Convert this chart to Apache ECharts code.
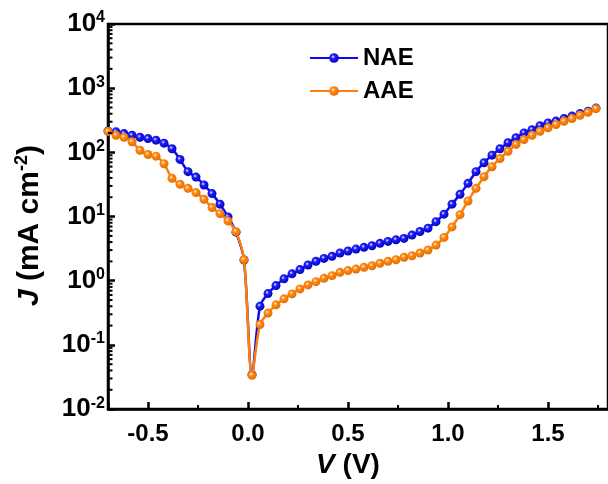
<!DOCTYPE html>
<html>
<head>
<meta charset="utf-8">
<script src="https://cdn.jsdelivr.net/npm/echarts@6/dist/echarts.min.js"></script>
<style>
  html, body { margin: 0; padding: 0; background: #fff; }
  #chart { width: 608px; height: 484px; }
</style>
</head>
<body>
<div id="chart"></div>
<script>
// Bias voltage (V)
const voltage = [-0.70, -0.66, -0.62, -0.58, -0.54, -0.50, -0.46, -0.42, -0.38, -0.34,
  -0.30, -0.26, -0.22, -0.18, -0.14, -0.10, -0.06, -0.02, 0.02, 0.06,
  0.10, 0.14, 0.18, 0.22, 0.26, 0.30, 0.34, 0.38, 0.42, 0.46,
  0.50, 0.54, 0.58, 0.62, 0.66, 0.70, 0.74, 0.78, 0.82, 0.86,
  0.90, 0.94, 0.98, 1.02, 1.06, 1.10, 1.14, 1.18, 1.22, 1.26,
  1.30, 1.34, 1.38, 1.42, 1.46, 1.50, 1.54, 1.58, 1.62, 1.66,
  1.70, 1.74];

// Current density |J| (mA cm^-2)
const jNAE = [215, 209, 196, 185, 172, 164, 155, 139, 114, 77.6,
  50.0, 41.2, 31.0, 22.8, 15.6, 9.88, 5.71, 2.10, 0.0345, 0.402,
  0.631, 0.840, 1.07, 1.28, 1.49, 1.76, 2.01, 2.23, 2.40, 2.70,
  2.90, 3.11, 3.31, 3.51, 3.82, 4.10, 4.34, 4.56, 5.14, 5.86,
  6.59, 8.32, 10.9, 15.6, 22.2, 32.9, 50.0, 69.0, 90.5, 114,
  141, 169, 201, 226, 261, 288, 307, 336, 367, 402,
  439, 489];

const jAAE = [212, 185, 172, 146, 108, 92.7, 87.3, 66.5, 39.4, 31.8,
  27.5, 23.6, 18.6, 13.8, 11.1, 8.55, 5.82, 2.12, 0.0337, 0.208,
  0.313, 0.421, 0.522, 0.624, 0.746, 0.861, 0.968, 1.09, 1.20, 1.35,
  1.44, 1.52, 1.62, 1.71, 1.87, 2.01, 2.12, 2.32, 2.45, 2.70,
  3.01, 3.59, 4.73, 6.89, 10.7, 17.5, 27.5, 41.8, 59.8, 80.4,
  104, 133, 158, 185, 213, 241, 271, 305, 336, 378,
  421, 480];

const seriesNames = ['NAE', 'AAE'];

// Axis ranges
const X_MIN = -0.7, X_MAX = 1.8;
const Y_MIN = 0.01, Y_MAX = 10000;

// Logarithmic minor tick values (2..9 in each decade)
const yMinorTicks = [0.02, 0.03, 0.04, 0.05, 0.06, 0.07, 0.08, 0.09,
  0.2, 0.3, 0.4, 0.5, 0.6, 0.7, 0.8, 0.9,
  2, 3, 4, 5, 6, 7, 8, 9,
  20, 30, 40, 50, 60, 70, 80, 90,
  200, 300, 400, 500, 600, 700, 800, 900,
  2000, 3000, 4000, 5000, 6000, 7000, 8000, 9000];

const FONT = '"Liberation Sans", Arial, sans-serif';

function ball(main, dark) {
  return {
    type: 'radial', x: 0.4, y: 0.38, r: 0.65,
    colorStops: [
      { offset: 0, color: '#ffffff' },
      { offset: 0.3, color: main },
      { offset: 1, color: dark }
    ]
  };
}

function pairs(xs, ys) {
  return xs.map((x, i) => [x, ys[i]]);
}

const chart = echarts.init(document.getElementById('chart'), null, { renderer: 'canvas' });

chart.setOption({
  animation: false,
  backgroundColor: '#ffffff',
  grid: {
    left: 108, right: -6, top: 24, bottom: 73,
    show: true, borderColor: '#000', borderWidth: 2.5, backgroundColor: 'transparent'
  },
  legend: {
    data: seriesNames,
    orient: 'vertical',
    left: 304, top: 41,
    itemWidth: 48, itemHeight: 12, itemGap: 9,
    textStyle: { fontFamily: FONT, fontSize: 24, fontWeight: 'bold', color: '#000' }
  },
  xAxis: {
    type: 'value', min: X_MIN, max: X_MAX,
    axisLine: { onZero: false, lineStyle: { color: '#000', width: 2.5 } },
    axisTick: { inside: true, length: 7, lineStyle: { width: 2.5 } },
    minorTick: { show: true, splitNumber: 2, length: 4, lineStyle: { color: '#000', width: 2 } },
    splitLine: { show: false },
    axisLabel: {
      margin: 13, showMinLabel: false, showMaxLabel: false,
      fontFamily: FONT, fontSize: 24, fontWeight: 'bold', color: '#000',
      formatter: v => v.toFixed(1)
    },
    name: '{i|V} (V)',
    nameLocation: 'middle', nameGap: 38,
    nameTextStyle: {
      fontFamily: FONT, fontSize: 28, fontWeight: 'bold', color: '#000',
      padding: [0, 20, 0, 0],
      rich: {
        i: { fontFamily: FONT, fontSize: 28, fontWeight: 'bold', fontStyle: 'italic', color: '#000' }
      }
    }
  },
  yAxis: {
    type: 'log', logBase: 10, min: Y_MIN, max: Y_MAX, splitNumber: 6,
    axisLine: { onZero: false, lineStyle: { color: '#000', width: 2.5 } },
    axisTick: { inside: true, length: 7, lineStyle: { width: 2.5 } },
    splitLine: { show: false },
    axisLabel: {
      margin: 3,
      fontFamily: FONT, fontSize: 26, fontWeight: 'bold', color: '#000',
      formatter: v => '{b|10}{s|' + Math.round(Math.log10(v)) + '}',
      rich: {
        b: { fontFamily: FONT, fontSize: 26, fontWeight: 'bold', color: '#000' },
        s: { fontFamily: FONT, fontSize: 16, fontWeight: 'bold', color: '#000', padding: [0, 0, 12, 0] }
      }
    },
    name: '{i|J} (mA cm{s|-2})',
    nameLocation: 'middle', nameGap: 62, nameRotate: 90,
    nameTextStyle: {
      fontFamily: FONT, fontSize: 30, fontWeight: 'bold', color: '#000',
      padding: [0, 18, 0, 0],
      rich: {
        i: { fontFamily: FONT, fontSize: 30, fontWeight: 'bold', fontStyle: 'italic', color: '#000' },
        s: { fontFamily: FONT, fontSize: 18, fontWeight: 'bold', color: '#000', padding: [0, 0, 15, 0] }
      }
    }
  },
  series: [
    {
      name: 'NAE', type: 'line', data: pairs(voltage, jNAE),
      smooth: 0.3, symbol: 'circle', symbolSize: 9, showAllSymbol: true,
      lineStyle: { color: '#0a0af5', width: 2.5 },
      itemStyle: { color: ball('#2222ff', '#0000b8') },
      z: 3
    },
    {
      name: 'AAE', type: 'line', data: pairs(voltage, jAAE),
      smooth: 0.3, symbol: 'circle', symbolSize: 9, showAllSymbol: true,
      lineStyle: { color: '#ff7f0a', width: 2.5 },
      itemStyle: { color: ball('#ff8c1a', '#e06a00') },
      z: 4
    },
    {
      // minor ticks of the logarithmic J axis, drawn inward from the left axis line
      type: 'custom', silent: true, z: 6,
      data: yMinorTicks.map(v => [X_MIN, v]),
      renderItem: (params, api) => {
        const p = api.coord([api.value(0), api.value(1)]);
        return {
          type: 'line',
          shape: { x1: p[0], y1: p[1], x2: p[0] + 4.5, y2: p[1] },
          style: { stroke: '#000', lineWidth: 2 }
        };
      },
      clip: false
    }
  ]
});
</script>
</body>
</html>
